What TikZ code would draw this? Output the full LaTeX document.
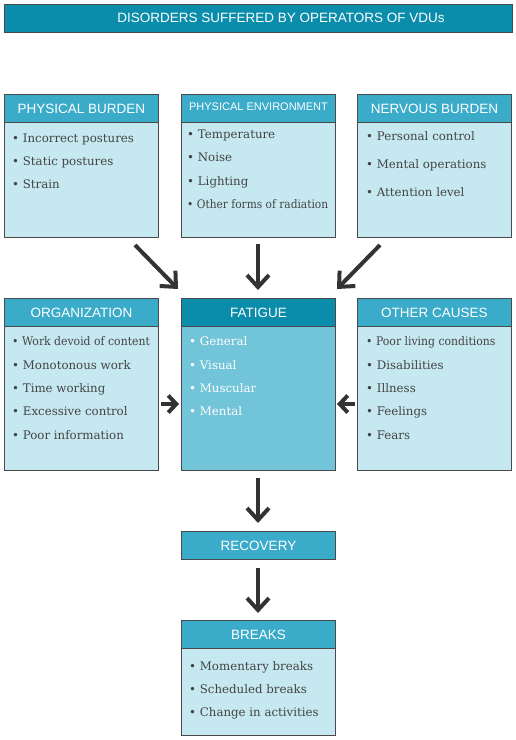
\documentclass[tikz,border=0pt]{standalone}
\usepackage{fontspec}
\setmainfont{DejaVu Serif}
\newfontfamily\hdfont{Liberation Sans}
\usetikzlibrary{arrows.meta}
\definecolor{dark}{HTML}{0A8CAB}
\definecolor{mid}{HTML}{3AABC9}
\definecolor{light}{HTML}{C6E8F0}
\definecolor{fat}{HTML}{72C4D8}
\definecolor{edge}{HTML}{4A4A4A}
\definecolor{arr}{HTML}{333333}
\definecolor{txt}{HTML}{444444}
\tikzset{
  x=1pt,y=-1pt,
  body/.style={draw=edge,line width=1pt,fill=light,anchor=north west,inner sep=0pt,minimum width=154pt},
  head/.style={draw=edge,line width=1pt,fill=mid,anchor=north west,inner sep=0pt,minimum width=154pt,minimum height=28pt,text=white,font=\hdfont\fontsize{13.5}{14}\selectfont},
  item/.style={anchor=base west,inner sep=0pt,text=txt,font=\fontsize{11.8}{13}\selectfont},
  witem/.style={item,text=white},
  bigarrow/.style={draw=arr,line width=4pt,-{Straight Barb[length=12pt,width=22pt,line width=4pt]}},
  sidearrow/.style={draw=arr,line width=4pt,-{Straight Barb[length=8pt,width=17pt,line width=4pt]}}
}
\begin{document}
\begin{tikzpicture}
\useasboundingbox (0,0) rectangle (516,740);
% title
\node[head,fill=dark,minimum width=508pt,minimum height=28pt] (title) at (4,4) {};
\node[text=white,font=\hdfont\fontsize{13.5}{14}\selectfont,inner sep=0pt] (titletext) at (281,18) {DISORDERS SUFFERED BY OPERATORS OF VDUs};
% top row
\node[body,minimum height=143pt] (pbB) at (4,94) {};
\node[head] (pbH) at (4,94) {PHYSICAL BURDEN};
\node[item] (pb1) at (12,142) {• Incorrect postures};
\node[item] (pb2) at (12,165) {• Static postures};
\node[item] (pb3) at (12,188) {• Strain};

\node[body,minimum height=143pt] (peB) at (181,94) {};
\node[head,font=\hdfont\fontsize{11}{12}\selectfont] (peH) at (181,94) {\raisebox{3pt}{PHYSICAL ENVIRONMENT}};
\node[item] (pe1) at (187,138) {• Temperature};
\node[item] (pe2) at (187,161) {• Noise};
\node[item] (pe3) at (187,185) {• Lighting};
\node[item] (pe4) at (187,208) {\scalebox{0.9}[1]{• Other forms of radiation}};

\node[body,minimum height=143pt] (nbB) at (357,94) {};
\node[head] (nbH) at (357,94) {NERVOUS BURDEN};
\node[item] (nb1) at (366,140) {• Personal control};
\node[item] (nb2) at (366,168) {• Mental operations};
\node[item] (nb3) at (366,196) {• Attention level};

% middle row
\node[body,minimum height=172pt] (orB) at (4,298) {};
\node[head] (orH) at (4,298) {ORGANIZATION};
\node[item] (or1) at (12,345) {\scalebox{0.92}[1]{• Work devoid of content}};
\node[item] (or2) at (12,369) {• Monotonous work};
\node[item] (or3) at (12,392) {• Time working};
\node[item] (or4) at (12,415) {• Excessive control};
\node[item] (or5) at (12,439) {• Poor information};

\node[body,fill=fat,minimum height=172pt] (faB) at (181,298) {};
\node[head,fill=dark] (faH) at (181,298) {FATIGUE};
\node[witem] (fa1) at (189,345) {• General};
\node[witem] (fa2) at (189,369) {• Visual};
\node[witem] (fa3) at (189,392) {• Muscular};
\node[witem] (fa4) at (189,415) {• Mental};

\node[body,minimum height=172pt] (ocB) at (357,298) {};
\node[head] (ocH) at (357,298) {OTHER CAUSES};
\node[item] (oc1) at (366,345) {\scalebox{0.92}[1]{• Poor living conditions}};
\node[item] (oc2) at (366,369) {• Disabilities};
\node[item] (oc3) at (366,392) {• Illness};
\node[item] (oc4) at (366,415) {• Feelings};
\node[item] (oc5) at (366,439) {• Fears};

% recovery
\node[head] (re) at (181,531) {RECOVERY};

% breaks
\node[body,minimum height=115pt] (brB) at (181,620) {};
\node[head] (brH) at (181,620) {BREAKS};
\node[item] (br1) at (189,670) {• Momentary breaks};
\node[item] (br2) at (189,693) {• Scheduled breaks};
\node[item] (br3) at (189,716) {• Change in activities};

% arrows
\coordinate (a1s) at (135,245); \coordinate (a1e) at (178,289);
\coordinate (a2s) at (258,244); \coordinate (a2e) at (258,290);
\coordinate (a3s) at (380,245); \coordinate (a3e) at (337,289);
\coordinate (a4s) at (161,404); \coordinate (a4e) at (179,404);
\coordinate (a5s) at (355,404); \coordinate (a5e) at (337,404);
\coordinate (a6s) at (258,478); \coordinate (a6e) at (258,523);
\coordinate (a7s) at (258,568); \coordinate (a7e) at (258,613);
\draw[bigarrow] (a1s) -- (a1e);
\draw[bigarrow] (a2s) -- (a2e);
\draw[bigarrow] (a3s) -- (a3e);
\draw[sidearrow] (a4s) -- (a4e);
\draw[sidearrow] (a5s) -- (a5e);
\draw[bigarrow] (a6s) -- (a6e);
\draw[bigarrow] (a7s) -- (a7e);
\end{tikzpicture}
\end{document}
